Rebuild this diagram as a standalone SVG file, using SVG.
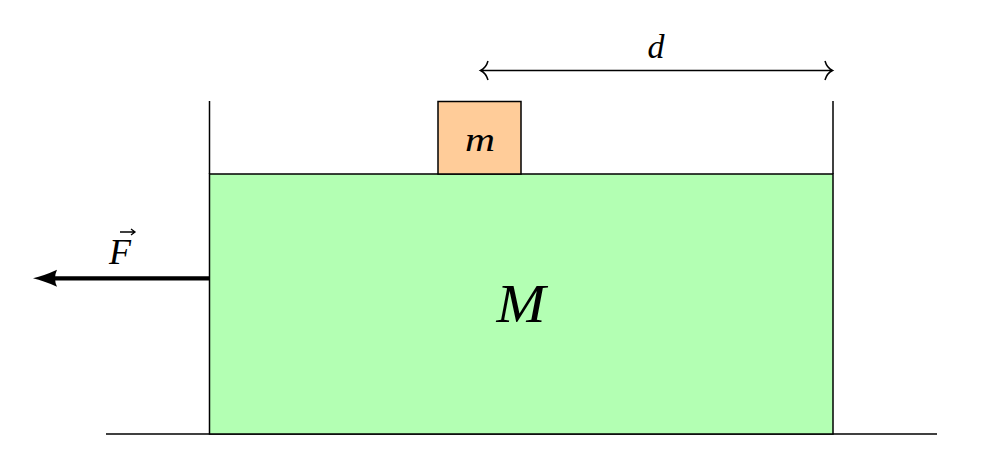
<svg xmlns="http://www.w3.org/2000/svg" width="983" height="455" viewBox="0 0 983 455">
<style>
.ln{stroke:#000;stroke-width:1.5;fill:none}
.t{font-family:"Liberation Serif","DejaVu Serif",serif;font-style:italic;fill:#000;text-anchor:middle}
</style>
<defs>
<marker id="solid" markerUnits="userSpaceOnUse" markerWidth="26" markerHeight="20" refX="10" refY="10" orient="auto"><path d="M1 1.500Q14 7.500 25 10Q14 12.500 1 18.500Q5 10 1 1.500Z" fill="#000"/></marker>
</defs>
<rect width="983" height="455" fill="#fff"/>
<g id="ground"><line class="ln" x1="106" y1="434" x2="937" y2="434"/></g>
<g id="block-M"><rect x="209.500" y="174" width="623.500" height="260" fill="#b3ffb3" stroke="#000" stroke-width="1.500"/><text class="t" x="521" y="322" font-size="54" textLength="49" lengthAdjust="spacingAndGlyphs">M</text></g>
<g id="block-m"><rect x="438" y="101.500" width="83" height="72.500" fill="#ffcc99" stroke="#000" stroke-width="1.500"/><text class="t" x="480" y="151" font-size="33" textLength="30" lengthAdjust="spacingAndGlyphs">m</text></g>
<g id="walls"><line class="ln" x1="209.500" y1="101" x2="209.500" y2="174"/><line class="ln" x1="833" y1="101" x2="833" y2="174"/></g>
<g id="connectors">
<line x1="209" y1="278.300" x2="48" y2="278.300" stroke="#000" stroke-width="4.300" marker-end="url(#solid)"/>
<line class="ln" x1="481" y1="70.500" x2="832" y2="70.500"/>
<path class="ln" d="M488 61Q486 68 480.500 70.500Q486 73 488 80M825 61Q827 68 832.500 70.500Q827 73 825 80"/>
</g>
<g id="label-F"><text class="t" x="120" y="264" font-size="36">F</text><path d="M120 232H135M131 229L135 232L131 235" fill="none" stroke="#000" stroke-width="1.300"/></g>
<g id="label-d"><text class="t" x="656" y="58" font-size="34">d</text></g>
</svg>
